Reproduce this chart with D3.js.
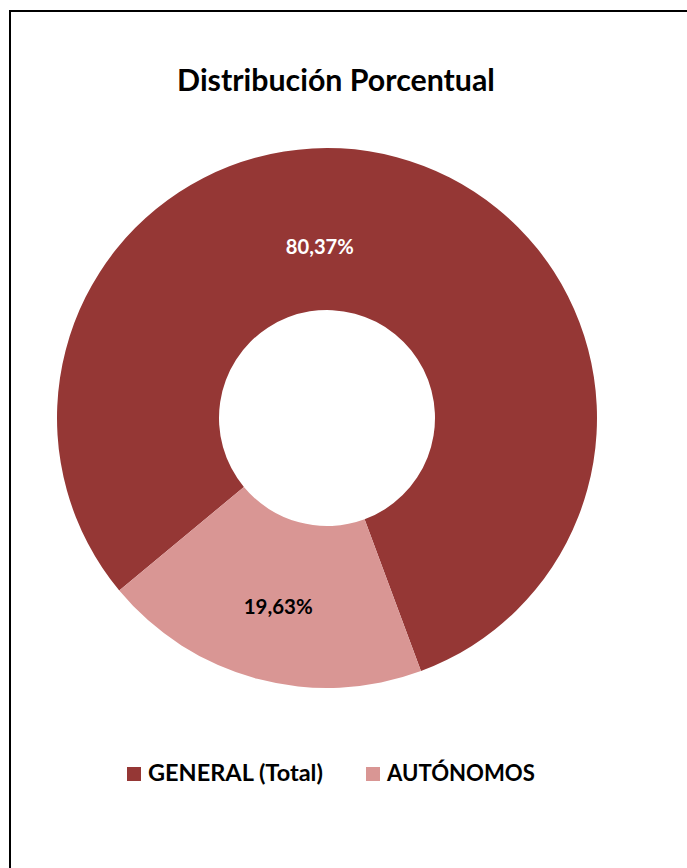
<!DOCTYPE html>
<html><head><meta charset="utf-8">
<script src="https://cdn.jsdelivr.net/npm/d3@7"></script>
<style>body{margin:0;background:#fff}svg{display:block}</style>
</head><body>
<svg id="c" width="687" height="868"></svg>
<script>
const categories = ["GENERAL (Total)", "AUTÓNOMOS"];
const values = [80.37, 19.63];
const labels = ["80,37%", "19,63%"];
const colors = ["#953735", "#D99694"];
const labelColors = ["#ffffff", "#000000"];
const title = "Distribución Porcentual";

const svg = d3.select("#c");
const FONT = "Lato, 'Open Sans', sans-serif";

svg.append("rect").attr("x", 10).attr("y", 11).attr("width", 800).attr("height", 900)
  .attr("fill", "none").attr("stroke", "#000").attr("stroke-width", 2);

function fitText(sel, target) {
  const w = sel.node().getComputedTextLength();
  const fs = parseFloat(sel.attr("font-size"));
  sel.attr("font-size", fs * target / w);
}

const t = svg.append("text").attr("x", 336).attr("y", 91).attr("text-anchor", "middle")
  .attr("font-family", FONT).attr("font-weight", "bold").attr("font-size", 26).text(title);
fitText(t, 318);

const cx = 327, cy = 418, R = 270, r = 108;
const startDeg = 230.3;
const pie = d3.pie().sort(null).value(d => d)
  .startAngle(startDeg * Math.PI / 180).endAngle((startDeg + 360) * Math.PI / 180);
const arcs = pie(values);
const arc = d3.arc().innerRadius(r).outerRadius(R);
const g = svg.append("g").attr("transform", `translate(${cx},${cy})`);
g.selectAll("path").data(arcs).join("path").attr("d", arc).attr("fill", (d, i) => colors[i]);

// label nudges (layout only), relative to the arc centroid
const labelShift = [[-56, 12], [0, 6]];
const labelW = [68, 69];
g.selectAll("text").data(arcs).join("text")
  .attr("transform", (d, i) => { const c = arc.centroid(d); return `translate(${c[0] + labelShift[i][0]},${c[1] + labelShift[i][1]})`; })
  .attr("text-anchor", "middle").attr("dy", "0.35em")
  .attr("font-family", FONT).attr("font-weight", "bold").attr("font-size", 19)
  .attr("fill", (d, i) => labelColors[i]).text((d, i) => labels[i])
  .each(function (d, i) { fitText(d3.select(this), labelW[i]); });

const legX = [127, 366];
const legTextW = [175, 148];
const lg = svg.append("g");
categories.forEach((c, i) => {
  lg.append("rect").attr("x", legX[i]).attr("y", 767).attr("width", 14).attr("height", 14).attr("fill", colors[i]);
  const tt = lg.append("text").attr("x", legX[i] + 21).attr("y", 781)
    .attr("font-family", FONT).attr("font-weight", "bold").attr("font-size", 20).text(c);
  fitText(tt, legTextW[i]);
});
</script>
</body></html>
